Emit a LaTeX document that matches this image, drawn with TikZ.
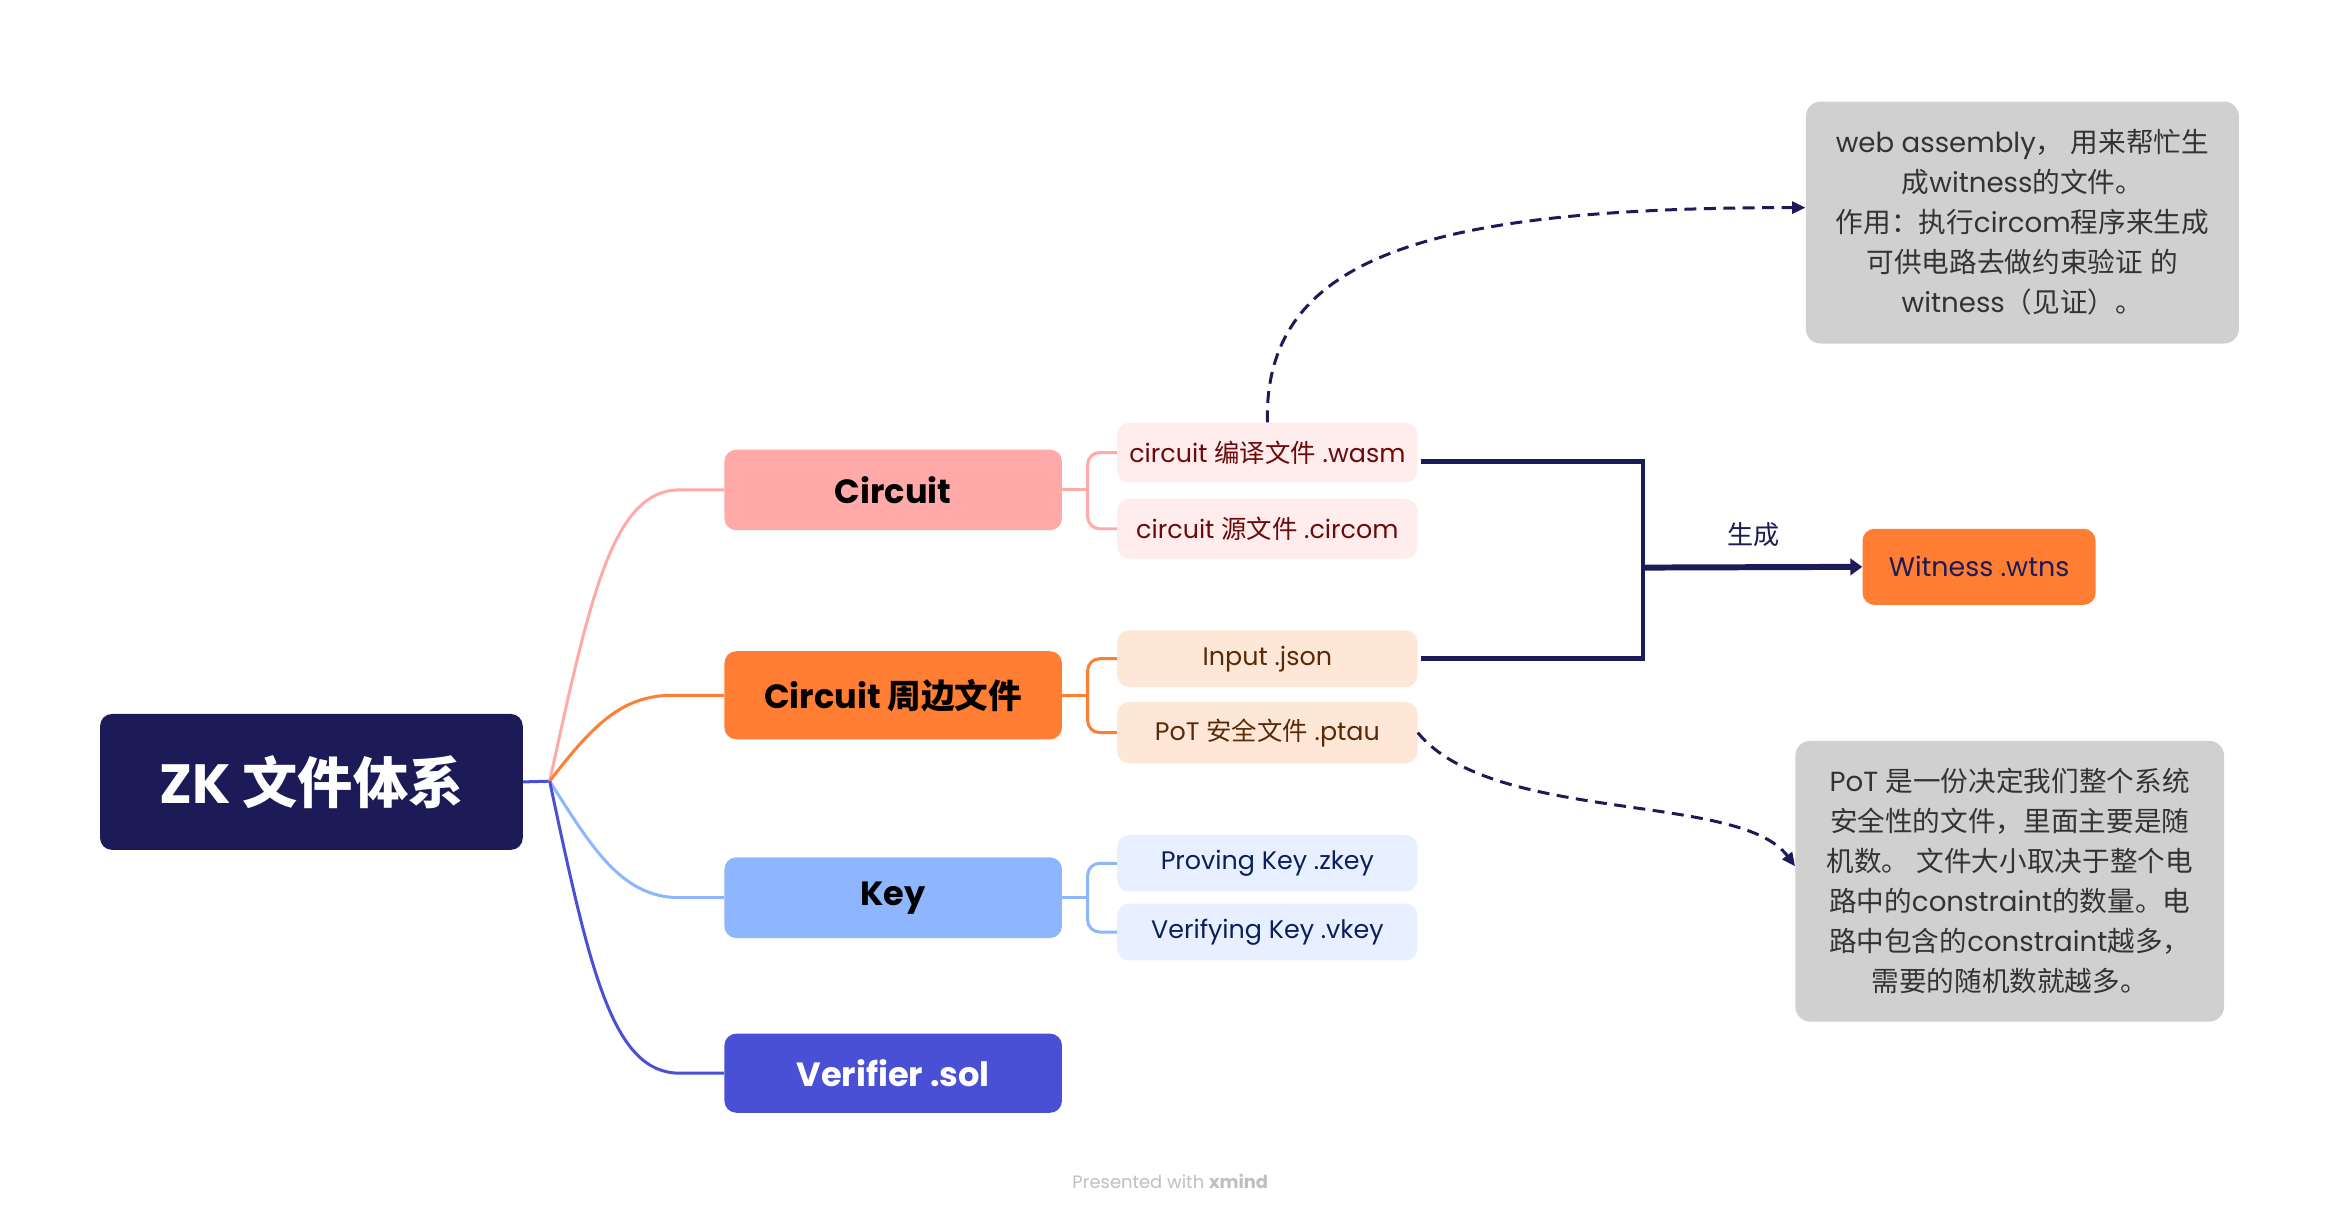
\documentclass[tikz,border=0pt]{standalone}
\usepackage{fontspec}
\setmainfont{Poppins}
\newfontfamily\cjk{Noto Sans CJK SC}
\newcommand\zh[1]{{\cjk #1}}
\usetikzlibrary{arrows.meta,calc}
\definecolor{navy}{HTML}{1C1A57}
\definecolor{pinkA}{HTML}{FFAAA8}
\definecolor{orangeA}{HTML}{FF7E33}
\definecolor{blueA}{HTML}{8DB6FF}
\definecolor{indigoA}{HTML}{4A50D6}
\definecolor{subpink}{HTML}{FFECEC}
\definecolor{pinktext}{HTML}{6B0A0A}
\definecolor{subpeach}{HTML}{FFE7D7}
\definecolor{peachtext}{HTML}{5A2A08}
\definecolor{subblue}{HTML}{E8F0FF}
\definecolor{bluetext}{HTML}{0B1F5E}
\definecolor{noteg}{HTML}{D0D0D0}
\definecolor{notetext}{HTML}{333333}
\definecolor{footg}{HTML}{BFBFBF}
\tikzset{
  rootbox/.style={fill=navy, rounded corners=8pt, minimum width=283pt, minimum height=91pt, inner sep=0pt, text=white, font=\bfseries\fontsize{37}{40}\selectfont},
  branchbox/.style={rounded corners=8pt, minimum width=226pt, inner sep=0pt, font=\bfseries\fontsize{22.5}{26}\selectfont},
  subbox/.style={rounded corners=8pt, minimum width=201pt, inner sep=0pt, font=\fontsize{17}{20}\selectfont},
  notebox/.style={fill=noteg, rounded corners=10pt, inner sep=0pt, text=notetext, align=center, font=\fontsize{18.5}{26.8}\selectfont},
  branchline/.style={line width=2pt},
  navyline/.style={draw=navy, line width=3pt},
  dasharrow/.style={draw=navy, line width=2pt, dash pattern=on 8pt off 5pt, -{Triangle[length=9pt,width=8pt]}},
}
\begin{document}
\begin{tikzpicture}[x=1pt,y=-1pt]
\fill[white] (0,0) rectangle (1568,814);
\useasboundingbox (0,0) rectangle (1568,814);

% root
\node[rootbox] (root) at (208.5,523.5) {ZK \zh{文件体系}};

% branches
\node[branchbox, fill=pinkA, minimum height=54pt, text=black] (circuit) at (598,328) {Circuit};
\node[branchbox, fill=orangeA, minimum height=59pt, text=black] (peri) at (598,465.5) {Circuit \zh{周边文件}};
\node[branchbox, fill=blueA, minimum height=54pt, text=black] (key) at (598,601) {Key};
\node[branchbox, fill=indigoA, minimum height=53pt, text=white] (verifier) at (598,718.5) {Verifier .sol};

% sub nodes
\node[subbox, fill=subpink, minimum height=40pt, text=pinktext] (wasm) at (848.5,303) {circuit \zh{编译文件} .wasm};
\node[subbox, fill=subpink, minimum height=40pt, text=pinktext] (circom) at (848.5,354) {circuit \zh{源文件} .circom};
\node[subbox, fill=subpeach, minimum height=38pt, text=peachtext] (input) at (848.5,441) {Input .json};
\node[subbox, fill=subpeach, minimum height=41pt, text=peachtext] (ptau) at (848.5,490.5) {PoT \zh{安全文件} .ptau};
\node[subbox, fill=subblue, minimum height=38pt, text=bluetext] (zkey) at (848.5,578) {Proving Key .zkey};
\node[subbox, fill=subblue, minimum height=38pt, text=bluetext] (vkey) at (848.5,624) {Verifying Key .vkey};

% witness
\node[rounded corners=8pt, fill=orangeA, minimum width=156pt, minimum height=51pt, inner sep=0pt, text=navy, font=\fontsize{18}{22}\selectfont] (witness) at (1325,379.5) {Witness .wtns};

% notes
\node[notebox, minimum width=290pt, minimum height=162pt] (note1) at (1354,149) {web assembly\zh{，} \zh{用来帮忙生}\\\zh{成}witness\zh{的文件。}\\\zh{作用：执行}circom\zh{程序来生成}\\\zh{可供电路去做约束验证} \zh{的}\\witness\zh{（见证）。}};
\node[notebox, minimum width=287pt, minimum height=188pt] (note2) at (1345.5,590) {PoT \zh{是一份决定我们整个系统}\\\zh{安全性的文件，里面主要是随}\\\zh{机数。} \zh{文件大小取决于整个电}\\\zh{路中的}constraint\zh{的数量。电}\\\zh{路中包含的}constraint\zh{越多，}\\\zh{需要的随机数就越多。}};

% root connectors
\coordinate (j) at (368,523);
\draw[branchline, indigoA] (root.east) -- (j);
\draw[branchline, pinkA] (j) .. controls (395,400) and (410,328) .. (455,328) -- (circuit.west);
\draw[branchline, orangeA] (j) .. controls (395,488) and (415,465.5) .. (450,465.5) -- (peri.west);
\draw[branchline, blueA] (j) .. controls (395,565) and (415,601) .. (455,601) -- (key.west);
\draw[branchline, indigoA] (j) .. controls (395,650) and (410,718.5) .. (455,718.5) -- (verifier.west);

% sub brackets
\coordinate (cj) at ($(circuit.east)+(17,0)$);
\coordinate (pj) at ($(peri.east)+(17,0)$);
\coordinate (kj) at ($(key.east)+(17,0)$);
\draw[branchline, pinkA] (circuit.east) -- (cj);
\draw[branchline, pinkA, rounded corners=8pt] (wasm.west) -| (cj) |- (circom.west);
\draw[branchline, orangeA] (peri.east) -- (pj);
\draw[branchline, orangeA, rounded corners=8pt] (input.west) -| (pj) |- (ptau.west);
\draw[branchline, blueA] (key.east) -- (kj);
\draw[branchline, blueA, rounded corners=8pt] (zkey.west) -| (kj) |- (vkey.west);

% generate bracket
\coordinate (gj) at (1100,380);
\coordinate (wasmout) at ($(wasm.east)+(2,6)$);
\coordinate (inputout) at ($(input.east)+(2,0)$);
\draw[navyline] (wasmout) -| (gj) |- (inputout);
\draw[navyline, line width=4pt, -{Triangle[length=8pt,width=11pt]}] (gj) -- (witness.west);
\node[text=navy, font=\cjk\fontsize{17.5}{20}\selectfont] (gen) at (1174,358) {生成};

% dashed arrows
\coordinate (n1in) at ($(note1.west)+(0,-10)$);
\coordinate (n2in) at ($(note2.west)+(0,-10)$);
\draw[dasharrow] (wasm.north) .. controls (846,170) and (960,139) .. (n1in);
\draw[dasharrow] (ptau.east) .. controls (1000,552) and (1165,530) .. (n2in);

% footer
\node[text=footg, font=\fontsize{12}{14}\selectfont] (foot) at (783.5,791) {Presented with \textbf{xmind}};
\end{tikzpicture}
\end{document}
